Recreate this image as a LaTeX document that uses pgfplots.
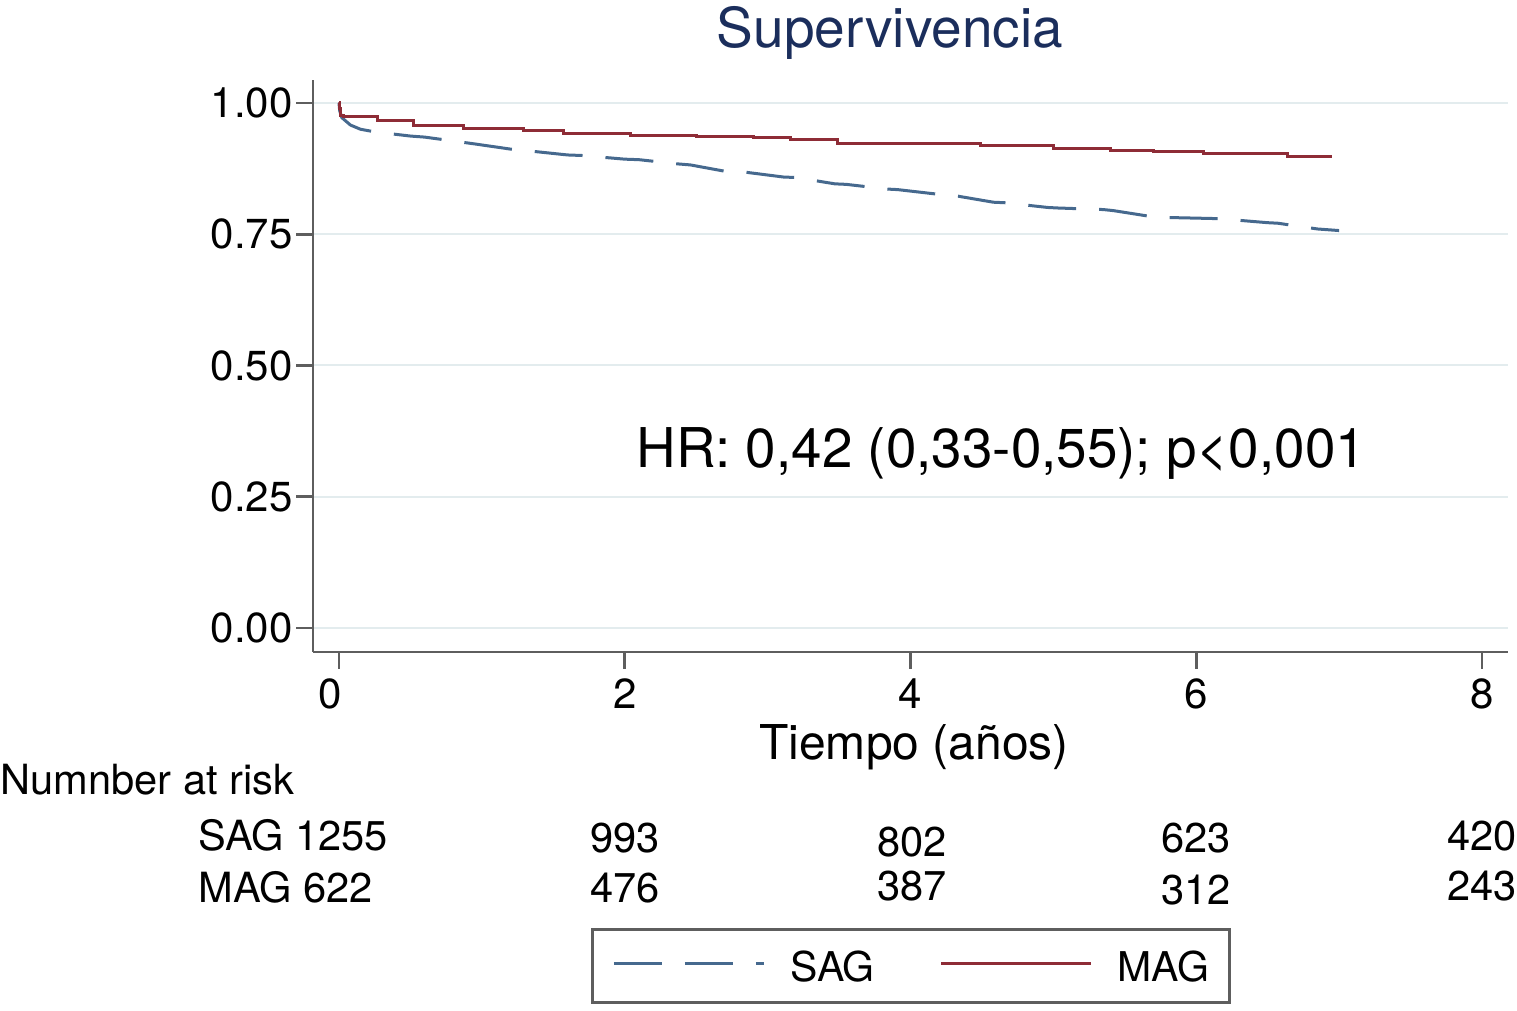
\documentclass[border=0pt]{standalone}
\usepackage{fontspec}
\setmainfont{TeX Gyre Heros}
\usepackage{pgfplots}
\pgfplotsset{compat=1.18}
\definecolor{sagblue}{HTML}{46698E}
\definecolor{magred}{HTML}{8E2C36}
\definecolor{axgray}{HTML}{5E5E5E}
\definecolor{gridc}{HTML}{E3ECEE}
\definecolor{titlenavy}{HTML}{1B2E5C}
\begin{document}
\begin{tikzpicture}
\path[use as bounding box] (0pt,0pt) rectangle (758.5pt,505.5pt);
\begin{axis}[
  at={(156.5pt,179.5pt)}, anchor=south west,
  width=597.5pt, height=286pt, scale only axis,
  xmin=-0.182, xmax=8.182, ymin=-0.0457, ymax=1.0438,
  axis lines*=left,
  axis line style={axgray, line width=1.4pt},
  every tick/.style={axgray, line width=1.4pt},
  tick align=outside, major tick length=8.5pt,
  xtick={0,2,4,6,8},
  xticklabels={{\makebox[0pt]{\hspace{-9pt}0}},2,4,6,8},
  ytick={0,0.25,0.5,0.75,1},
  yticklabels={0.00,0.25,0.50,0.75,1.00},
  /pgf/number format/assume math mode=true,
  ticklabel style={font=\fontsize{21}{24}\selectfont},
  yticklabel style={inner xsep=1.5pt},
  xticklabel style={inner ysep=4.5pt},
  ymajorgrids, major grid style={gridc, line width=1pt},
  title={Supervivencia},
  title style={at={(axis description cs:0.4828,1)}, anchor=base, yshift=10pt,
    font=\fontsize{27.5}{32}\selectfont, text=titlenavy, inner sep=0pt},
  xlabel={Tiempo (años)},
  xlabel style={at={(axis description cs:0.503,0)}, anchor=base, yshift=-54pt,
    font=\fontsize{24}{28}\selectfont, inner sep=0pt},
  clip=false,
  legend columns=2,
  legend style={at={(axis description cs:0.2326,-0.6154)}, anchor=south west,
    draw=axgray, line width=1.5pt, inner xsep=10pt, inner ysep=10.5pt,
    font=\fontsize{20.5}{24}\selectfont,
    nodes={inner sep=0pt, text depth=0pt},
    /tikz/every odd column/.append style={column sep=12.5pt},
    /tikz/every even column/.append style={column sep=32.5pt},
    cells={anchor=west}},
  legend image code/.code={\draw[#1] (0pt,1.5pt) -- (75pt,1.5pt);},
]
\addplot[sagblue, line width=1.5pt, dash pattern=on 24pt off 11.5pt] coordinates {
(0,1.0) (0.005,0.985) (0.02,0.972) (0.08,0.958) (0.15,0.950) (0.25,0.945)
(0.5,0.937) (0.6,0.935) (0.87,0.925) (0.95,0.922) (1.23,0.911) (1.32,0.909)
(1.6,0.901) (1.7,0.900) (2.0,0.893) (2.1,0.892) (2.37,0.884) (2.46,0.882)
(2.72,0.869) (2.85,0.868) (3.11,0.859) (3.2,0.858) (3.47,0.846) (3.55,0.845)
(3.84,0.836) (3.91,0.835) (4.23,0.825) (4.3,0.824) (4.58,0.811) (4.66,0.810)
(4.96,0.801) (5.03,0.800) (5.35,0.797) (5.42,0.795) (5.7,0.783) (5.78,0.782)
(6.11,0.780) (6.19,0.779) (6.5,0.772) (6.57,0.771) (6.85,0.760) (7.0,0.757)
};
\addlegendentry{SAG}
\addplot[magred, line width=1.5pt, const plot] coordinates {
(0,1.0) (0.005,0.99) (0.01,0.976) (0.03,0.974) (0.27,0.966) (0.52,0.958)
(0.87,0.951) (1.29,0.947) (1.57,0.941) (2.04,0.938) (2.5,0.937) (2.9,0.935)
(3.16,0.930) (3.49,0.922) (4.49,0.919) (5.0,0.913) (5.40,0.910) (5.70,0.907)
(6.05,0.904) (6.64,0.899) (6.95,0.899)
};
\addlegendentry{MAG}
\node[anchor=base west, inner sep=0pt, font=\fontsize{27.4}{32}\selectfont]
  at (axis cs:2.079,0.305) {HR: 0,42 (0,33-0,55); p<0,001};
\end{axis}
\begin{scope}[every node/.style={inner sep=0pt, font=\fontsize{20.8}{24}\selectfont}]
\node[anchor=base west] at (0pt,108pt) {Numnber at risk};
\node[anchor=base west] at (99pt,80pt) {SAG 1255};
\node[anchor=base west] at (99pt,54pt) {MAG 622};
\node[anchor=base] at (312.5pt,79pt) {993};
\node[anchor=base] at (456pt,77pt) {802};
\node[anchor=base] at (598pt,79pt) {623};
\node[anchor=base] at (741pt,80pt) {420};
\node[anchor=base] at (312.5pt,54pt) {476};
\node[anchor=base] at (456pt,55pt) {387};
\node[anchor=base] at (598pt,53pt) {312};
\node[anchor=base] at (741pt,55pt) {243};
\end{scope}
\end{tikzpicture}
\end{document}
